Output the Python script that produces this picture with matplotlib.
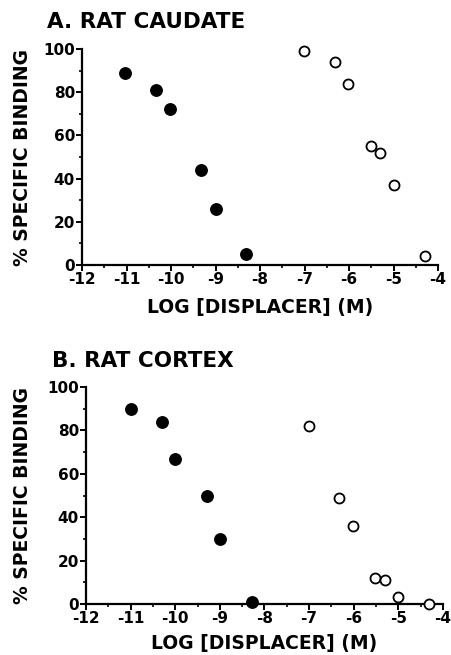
import matplotlib
matplotlib.use("Agg")
import matplotlib.pyplot as plt
from matplotlib.ticker import MultipleLocator

plt.rcParams['font.family'] = ['DejaVu Sans']
plt.rcParams['font.weight'] = 'bold'

# Panel A: rat caudate
a_filled_x = [-11.03, -10.34, -10.02, -9.32, -9.0, -8.31]
a_filled_y = [89, 81, 72, 44, 26, 5]
a_open_x = [-7.02, -6.31, -6.02, -5.51, -5.3, -4.99, -4.29]
a_open_y = [99, 94, 84, 55, 52, 37, 4]

# Panel B: rat cortex
b_filled_x = [-10.99, -10.29, -10.0, -9.29, -9.0, -8.28]
b_filled_y = [90, 84, 67, 50, 30, 1]
b_open_x = [-7.0, -6.32, -6.01, -5.52, -5.3, -5.0, -4.31]
b_open_y = [82, 49, 36, 12, 11, 3, 0]

x_ticks = [-12, -11, -10, -9, -8, -7, -6, -5, -4]
y_ticks = [0, 20, 40, 60, 80, 100]
titles = ["A. RAT CAUDATE", "B. RAT CORTEX"]
xlabel = "LOG [DISPLACER] (M)"
ylabel = "% SPECIFIC BINDING"

W, H = 452, 655
fig = plt.figure(figsize=(W / 100, H / 100), dpi=100)

def px_axes(left, top, right, bottom):
    return fig.add_axes([left / W, 1 - bottom / H, (right - left) / W, (bottom - top) / H])

panels = [
    (px_axes(82, 49, 438, 265), a_filled_x, a_filled_y, a_open_x, a_open_y, titles[0], (47, 28), 313),
    (px_axes(86, 387, 443, 604), b_filled_x, b_filled_y, b_open_x, b_open_y, titles[1], (52, 367), 649),
]

for ax, fx, fy, ox, oy, title, tpos, xl_y in panels:
    ax.scatter(fx, fy, s=68, color='black', zorder=3, clip_on=False)
    ax.scatter(ox, oy, s=52, facecolor='white', edgecolor='black', linewidths=1.3, zorder=3, clip_on=False)
    ax.set_xlim(-12, -4)
    ax.set_ylim(0, 100)
    ax.set_xticks(x_ticks)
    ax.set_xticklabels([str(t) for t in x_ticks])
    ax.set_yticks(y_ticks)
    ax.xaxis.set_minor_locator(MultipleLocator(0.5))
    ax.yaxis.set_minor_locator(MultipleLocator(10))
    for s in ['top', 'right']:
        ax.spines[s].set_visible(False)
    for s in ['left', 'bottom']:
        ax.spines[s].set_linewidth(1.6)
    ax.tick_params(axis='both', which='major', direction='out', length=4, width=1.4,
                   labelsize=11, pad=1)
    ax.tick_params(axis='both', which='minor', direction='out', length=2, width=1.2)
    for lab in ax.get_xticklabels() + ax.get_yticklabels():
        lab.set_fontweight('bold')
    pos = ax.get_position()
    fig.text(23 / W, (pos.y0 + pos.y1) / 2, ylabel, fontsize=13.5, fontweight='bold',
             rotation=90, ha='center', va='center')
    fig.text(tpos[0] / W, 1 - tpos[1] / H, title, fontsize=15.5, fontweight='bold',
             ha='left', va='baseline')
    fig.text((pos.x0 + pos.x1) / 2, 1 - xl_y / H, xlabel,
             fontsize=13.5, fontweight='bold', ha='center', va='baseline')

fig.savefig("out.png", dpi=100)
